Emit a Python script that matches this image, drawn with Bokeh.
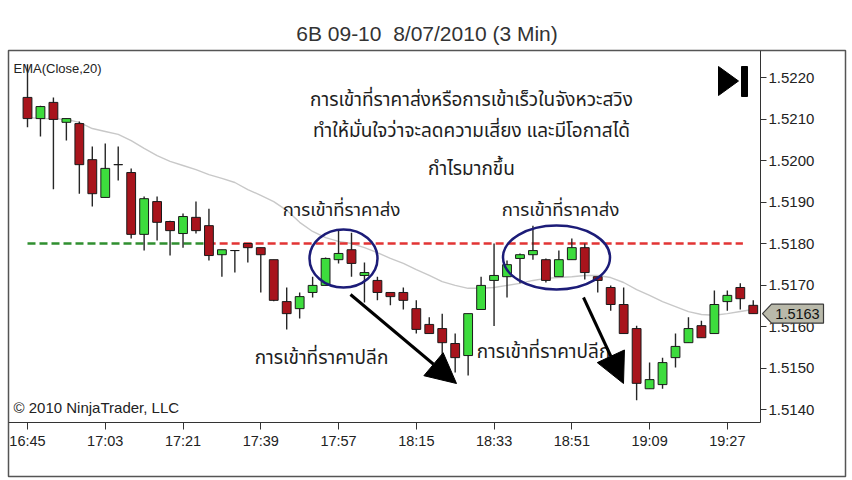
from bokeh.plotting import figure
from bokeh.models import (Range1d, LinearAxis, FixedTicker, PrintfTickFormatter,
                          Arrow, NormalHead, ColumnDataSource)
from bokeh.core.properties import value
from bokeh.embed import file_html
from bokeh.resources import INLINE

# ---------------- data: 6B (GBP futures) 3-minute bars ----------------
time_labels = ["16:45", "17:03", "17:21", "17:39", "17:57",
               "18:15", "18:33", "18:51", "19:09", "19:27"]
label_every = 6  # one time label every 6 bars (18 minutes)

opens = [1.52152, 1.52101, 1.52140, 1.52092, 1.52089, 1.52002, 1.51911, 1.51990,
         1.51971, 1.51822, 1.51901, 1.51853, 1.51824, 1.51863, 1.51843, 1.51773,
         1.51783, 1.51800, 1.51790, 1.51761, 1.51660, 1.51643, 1.51682, 1.51699,
         1.51761, 1.51785, 1.51723, 1.51711, 1.51682, 1.51682, 1.51643, 1.51605,
         1.51595, 1.51559, 1.51530, 1.51641, 1.51711, 1.51720, 1.51764, 1.51773,
         1.51761, 1.51720, 1.51761, 1.51790, 1.51720, 1.51694, 1.51653, 1.51595,
         1.51450, 1.51460, 1.51525, 1.51561, 1.51602, 1.51583, 1.51660, 1.51694,
         1.51651]
highs = [1.52232, 1.52132, 1.52152, 1.52101, 1.52094, 1.52034, 1.52041, 1.52034,
         1.51981, 1.51913, 1.51913, 1.51855, 1.51872, 1.51901, 1.51884, 1.51785,
         1.51783, 1.51800, 1.51790, 1.51761, 1.51694, 1.51682, 1.51720, 1.51766,
         1.51834, 1.51826, 1.51754, 1.51720, 1.51682, 1.51694, 1.51663, 1.51622,
         1.51631, 1.51583, 1.51631, 1.51720, 1.51800, 1.51759, 1.51776, 1.51843,
         1.51764, 1.51783, 1.51812, 1.51800, 1.51720, 1.51699, 1.51694, 1.51602,
         1.51513, 1.51525, 1.51583, 1.51622, 1.51614, 1.51687, 1.51687, 1.51704,
         1.51663]
lows = [1.52080, 1.52058, 1.51931, 1.52048, 1.51920, 1.51889, 1.51911, 1.51952,
        1.51812, 1.51783, 1.51807, 1.51771, 1.51790, 1.51824, 1.51759, 1.51720,
        1.51730, 1.51754, 1.51682, 1.51661, 1.51593, 1.51619, 1.51670, 1.51699,
        1.51752, 1.51720, 1.51658, 1.51663, 1.51651, 1.51641, 1.51583, 1.51583,
        1.51530, 1.51489, 1.51482, 1.51641, 1.51601, 1.51670, 1.51704, 1.51761,
        1.51706, 1.51720, 1.51761, 1.51713, 1.51682, 1.51638, 1.51583, 1.51422,
        1.51450, 1.51450, 1.51501, 1.51561, 1.51573, 1.51583, 1.51638, 1.51641,
        1.51631]
closes = [1.52101, 1.52130, 1.52099, 1.52101, 1.51990, 1.51920, 1.51981, 1.51990,
          1.51822, 1.51908, 1.51851, 1.51831, 1.51865, 1.51831, 1.51771, 1.51785,
          1.51783, 1.51790, 1.51773, 1.51663, 1.51631, 1.51672, 1.51699, 1.51764,
          1.51776, 1.51752, 1.51730, 1.51682, 1.51672, 1.51663, 1.51593, 1.51583,
          1.51561, 1.51525, 1.51631, 1.51699, 1.51723, 1.51749, 1.51773, 1.51783,
          1.51711, 1.51761, 1.51790, 1.51730, 1.51711, 1.51653, 1.51583, 1.51463,
          1.51472, 1.51513, 1.51552, 1.51595, 1.51573, 1.51653, 1.51675, 1.51667,
          1.51631]
ema20 = [1.52104, 1.52101, 1.52101, 1.52099, 1.52092, 1.52077, 1.52070, 1.52063,
         1.52048, 1.52029, 1.52012, 1.51998, 1.51988, 1.51978, 1.51966, 1.51957,
         1.51947, 1.51930, 1.51916, 1.51901, 1.51880, 1.51851, 1.51829, 1.51814,
         1.51805, 1.51800, 1.51790, 1.51778, 1.51764, 1.51752, 1.51737, 1.51723,
         1.51708, 1.51699, 1.51692, 1.51692, 1.51694, 1.51699, 1.51704, 1.51711,
         1.51716, 1.51718, 1.51720, 1.51723, 1.51723, 1.51718, 1.51706, 1.51689,
         1.51675, 1.51660, 1.51648, 1.51636, 1.51629, 1.51627, 1.51631, 1.51636,
         1.51641]

price_ticks = [1.5140, 1.5150, 1.5160, 1.5170, 1.5180, 1.5190, 1.5200, 1.5210, 1.5220]

# horizontal entry level drawn on the chart (green part, then red part), in bar units
entry_level = 1.5180
green_span = [0, 13.9]
red_span = [13.9, 55.2]

title = "6B 09-10\u00a0 8/07/2010 (3 Min)"
note_lines = ["การเข้าที่ราคาส่งหรือการเข้าเร็วในจังหวะสวิง",
              "ทำให้มั่นใจว่าจะลดความเสี่ยง และมีโอกาสได้",
              "กำไรมากขึ้น"]
wholesale = "การเข้าที่ราคาส่ง"
retail = "การเข้าที่ราคาปลีก"

# ---------------- layout: pixel <-> data mapping ----------------
W, H = 852, 480
FL, FR, FT, FB = 8, 845, 50, 476          # frame edges in page pixels
BAR0_PX, BAR_PX = 27.0, 12.96             # x pixel of bar 0, pixels per bar
P_REF, P_REF_PX, PX_PER_UNIT = 1.5220, 77.0, 41500.0


def bx(px):
    return (px - BAR0_PX) / BAR_PX


def py(px):
    return P_REF - (px - P_REF_PX) / PX_PER_UNIT


AXIS_X_PX, AXIS_Y_PX = 760, 422

p = figure(width=W, height=H, output_backend="svg", toolbar_location=None,
           x_axis_location=None, y_axis_location=None,
           x_range=Range1d(bx(FL), bx(FR)), y_range=Range1d(py(FB), py(FT)),
           min_border_left=FL, min_border_right=W - FR,
           min_border_top=FT, min_border_bottom=H - FB)
p.grid.visible = False
p.background_fill_color = "white"
p.border_fill_color = "white"
p.outline_line_color = "#555555"
p.outline_line_width = 1.5

p.title.text = title
p.title.align = "center"
p.title.text_font = "Liberation Sans"
p.title.text_font_size = "21px"
p.title.text_font_style = "normal"
p.title.text_color = "#333333"
p.title.standoff = 11
p.title.offset = -6

# price axis on the right edge of the price pane
yax = LinearAxis(fixed_location=bx(AXIS_X_PX), bounds=(py(AXIS_Y_PX), py(FT)),
                 ticker=FixedTicker(ticks=price_ticks),
                 formatter=PrintfTickFormatter(format="%.4f"))
yax.axis_line_color = "#333333"
yax.major_tick_line_color = "#333333"
yax.major_tick_out = 6
yax.major_tick_in = 0
yax.minor_tick_line_color = None
yax.major_label_standoff = 2
yax.major_label_text_font = "Liberation Sans"
yax.major_label_text_font_size = "15px"
yax.major_label_text_color = "#222222"
p.add_layout(yax, "right")

# time axis along the bottom of the price pane
tick_idx = [i * label_every for i in range(len(time_labels))]
xax = LinearAxis(fixed_location=py(AXIS_Y_PX), bounds=(bx(FL), bx(AXIS_X_PX)),
                 ticker=FixedTicker(ticks=tick_idx),
                 major_label_overrides={t: s for t, s in zip(tick_idx, time_labels)})
xax.axis_line_color = "#333333"
xax.major_tick_line_color = "#333333"
xax.major_tick_out = 7
xax.major_tick_in = 0
xax.minor_tick_line_color = None
xax.major_label_standoff = 3
xax.major_label_text_font = "Liberation Sans"
xax.major_label_text_font_size = "14.5px"
xax.major_label_text_color = "#222222"
p.add_layout(xax, "below")

# ---------------- candles ----------------
idx = list(range(len(opens)))
up = [c >= o for o, c in zip(opens, closes)]
src = ColumnDataSource(dict(
    x=idx, o=opens, h=highs, l=lows, c=closes,
    top=[max(o, c) for o, c in zip(opens, closes)],
    bottom=[min(o, c) for o, c in zip(opens, closes)],
    fill=["#3ddc3d" if u else "#a8141c" for u in up],
))

p.line(idx, ema20, line_color="#c8c8c8", line_width=1.4)
p.line(green_span, [entry_level] * 2, line_color="#2f8f2f", line_width=2.5, line_dash="8 4")
p.line(red_span, [entry_level] * 2, line_color="#e23434", line_width=2.5, line_dash="8 4")

p.segment(x0="x", y0="l", x1="x", y1="h", source=src, line_color="#262626", line_width=1.4)
p.vbar(x="x", width=0.68, top="top", bottom="bottom", source=src,
       fill_color="fill", line_color="#1a1a1a", line_width=1)

# swing-entry circles
p.ellipse(x=[bx(343), bx(556)], y=[py(258), py(257)], width=[68, 107], height=[58, 64],
          width_units="screen", height_units="screen",
          fill_alpha=0, line_color="#1c1c78", line_width=2.5)

# down-move arrows
for (x0, y0, x1, y1) in [(350, 294, 456, 383), (583, 297, 623, 383)]:
    p.add_layout(Arrow(end=NormalHead(size=30, fill_color="black", line_color="black"),
                       x_start=bx(x0), y_start=py(y0), x_end=bx(x1), y_end=py(y1),
                       line_color="black", line_width=3))

# ---------------- texts ----------------
thai_font = value("Noto Sans Thai, Tahoma, Noto Sans, sans-serif")
p.text(x=[bx(471)] * 3, y=[py(100), py(131), py(169)], text=note_lines,
       text_font=thai_font, text_font_size=value("19px"), text_color="#1e1e1e",
       text_align="center", text_baseline="middle")
p.text(x=[bx(341), bx(560)], y=[py(209), py(209)], text=[wholesale, wholesale],
       text_font=thai_font, text_font_size=value("18.5px"), text_color="#1e1e1e",
       text_align="center", text_baseline="middle")
p.text(x=[bx(321), bx(543)], y=[py(358), py(352)], text=[retail, retail],
       text_font=thai_font, text_font_size=value("19px"), text_color="#1e1e1e",
       text_align="center", text_baseline="middle")

latin = value("Liberation Sans")
p.text(x=[bx(13)], y=[py(68)], text=["EMA(Close,20)"], text_font=latin,
       text_font_size=value("13px"), text_color="#222222",
       text_align="left", text_baseline="middle")
p.text(x=[bx(13)], y=[py(407)], text=["© 2010 NinjaTrader, LLC"], text_font=latin,
       text_font_size=value("15px"), text_color="#222222",
       text_align="left", text_baseline="middle")

# "jump to last bar" button
p.patch([bx(718), bx(738), bx(718)], [py(66), py(80.5), py(95)],
        fill_color="black", line_color="black")
p.quad(left=[bx(741)], right=[bx(747)], top=[py(66)], bottom=[py(96)],
       fill_color="black", line_color="black")

# last-price tag on the price axis
last = closes[-1]
ly = P_REF_PX + (P_REF - last) * PX_PER_UNIT
tag_x = [bx(762), bx(771), bx(823), bx(823), bx(771)]
tag_y = [last, py(ly - 9.5), py(ly - 9.5), py(ly + 9.5), py(ly + 9.5)]
p.patch(tag_x, tag_y, fill_color="#b9b9aa", line_color="#3a3a3a", line_width=1.2,
        level="overlay")
p.text(x=[bx(797)], y=[last], text=[f"{last:.4f}"], text_font=latin,
       text_font_size=value("14.5px"), text_color="#111111",
       text_align="center", text_baseline="middle", level="overlay")

open("out.html", "w").write(file_html(p, INLINE))
